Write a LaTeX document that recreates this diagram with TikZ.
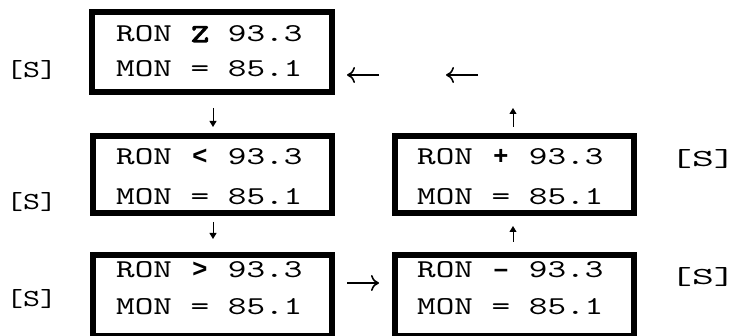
\documentclass[tikz,border=0pt]{standalone}
\usepackage{fontspec}
\usetikzlibrary{arrows.meta}
\newfontfamily\lcd{lmmono10-regular}[Extension=.otf, FakeStretch=1.38]
\newfontfamily\lcdbold{lmmono10-regular}[Extension=.otf, FakeStretch=1.38, FakeBold=4]
\newfontfamily\lbl{lmmono10-regular}[Extension=.otf, FakeStretch=1.32]
\newfontfamily\lblwide{lmmono10-regular}[Extension=.otf, FakeStretch=1.7]
\newfontfamily\symfont{Liberation Sans}
\newcommand\cellbox[1]{\setbox0\hbox{0}\makebox[\wd0]{#1}}
\newcommand\symb[1]{\cellbox{\symfont\bfseries #1}}
\tikzset{
  lcdbox/.style={draw, line width=6pt, miter limit=10, inner sep=0pt},
  lcdtext/.style={anchor=base west, inner sep=0pt, font={\lcd\fontsize{25.7pt}{30pt}\selectfont}},
  slabel/.style={anchor=base west, inner sep=0pt, font={\lbl\fontsize{24.5pt}{30pt}\selectfont}},
  slabelwide/.style={anchor=base west, inner sep=0pt, font={\lblwide\fontsize{24.5pt}{30pt}\selectfont}},
  harr/.style={line width=1.6pt, -{Computer Modern Rightarrow[length=8pt,width=16pt]}},
  varr/.style={line width=0.9pt, -{Triangle[length=6pt,width=7pt]}}
}
\begin{document}
\begin{tikzpicture}[x=1pt,y=-1pt]
\useasboundingbox (0,0) rectangle (740,336);
% boxes
\node[lcdbox, minimum width=240pt, minimum height=80pt] (b1) at (212,52) {};
\node[lcdbox, minimum width=239pt, minimum height=77pt] (b2) at (212.5,174.5) {};
\node[lcdbox, minimum width=239pt, minimum height=77pt] (b3) at (514.5,174.5) {};
\node[lcdbox, minimum width=239pt, minimum height=81pt] (b4) at (212.5,295.5) {};
\node[lcdbox, minimum width=239pt, minimum height=81pt] (b5) at (514.5,295.5) {};
% texts
\node[lcdtext] (t1a) at (116,42) {RON \cellbox{\lcdbold Z} 93.3};
\node[lcdtext] (t1b) at (116,77) {MON = 85.1};
\node[lcdtext] (t2a) at (116,165) {RON \symb{<} 93.3};
\node[lcdtext] (t2b) at (116,205) {MON = 85.1};
\node[lcdtext] (t3a) at (417,165) {RON \symb{+} 93.3};
\node[lcdtext] (t3b) at (417,205) {MON = 85.1};
\node[lcdtext] (t4a) at (116,278) {RON \symb{>} 93.3};
\node[lcdtext] (t4b) at (116,315) {MON = 85.1};
\node[lcdtext] (t5a) at (417,278) {RON \symb{–} 93.3};
\node[lcdtext] (t5b) at (417,315) {MON = 85.1};
% [S] labels
\node[slabel] (s1) at (6,78) {[S]};
\node[slabel] (s2) at (6,210) {[S]};
\node[slabel] (s4) at (6,307) {[S]};
\node[slabelwide] (s3) at (670,167) {[S]};
\node[slabelwide] (s5) at (670,285) {[S]};
% arrows
\coordinate (a1s) at (379,75); \coordinate (a1e) at (347,75);
\coordinate (a2s) at (478,75); \coordinate (a2e) at (446,75);
\coordinate (a3s) at (347,283); \coordinate (a3e) at (379,283);
\coordinate (d1s) at (213,108); \coordinate (d1e) at (213,127);
\coordinate (u1s) at (513,127); \coordinate (u1e) at (513,108);
\coordinate (d2s) at (213,222); \coordinate (d2e) at (213,239);
\coordinate (u2s) at (513,242); \coordinate (u2e) at (513,226);
\draw[harr] (a1s) -- (a1e);
\draw[harr] (a2s) -- (a2e);
\draw[harr] (a3s) -- (a3e);
\draw[varr] (d1s) -- (d1e);
\draw[varr] (u1s) -- (u1e);
\draw[varr] (d2s) -- (d2e);
\draw[varr] (u2s) -- (u2e);
\end{tikzpicture}
\end{document}
